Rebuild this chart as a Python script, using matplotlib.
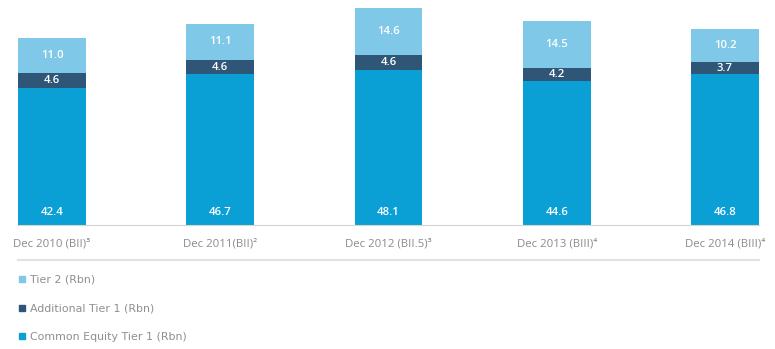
import matplotlib.pyplot as plt
from matplotlib.lines import Line2D

# Capital composition by reporting date (Rbn)
periods = ["Dec 2010 (BII)\u00b3", "Dec 2011(BII)\u00b2", "Dec 2012 (BII.5)\u00b3",
           "Dec 2013 (BIII)\u2074", "Dec 2014 (BIII)\u2074"]
cet1 = [42.4, 46.7, 48.1, 44.6, 46.8]
at1 = [4.6, 4.6, 4.6, 4.2, 3.7]
tier2 = [11.0, 11.1, 14.6, 14.5, 10.2]

C_CET1 = "#0a9fd5"
C_AT1 = "#2f5676"
C_T2 = "#7fc8e8"
GREY = "#8a8a8a"

plt.rcParams["font.family"] = ["Open Sans", "DejaVu Sans"]

W, H = 775, 349
fig = plt.figure(figsize=(W / 100, H / 100), dpi=100)
ax = fig.add_axes([18 / W, 1 - 225 / H, (759 - 18) / W, 225 / H])

x = range(len(periods))
width = 0.404
ax.bar(x, cet1, width, color=C_CET1)
ax.bar(x, at1, width, bottom=cet1, color=C_AT1)
base2 = [a + b for a, b in zip(cet1, at1)]
ax.bar(x, tier2, width, bottom=base2, color=C_T2)

lab = dict(ha="center", va="center", color="white", fontsize=8.2, fontweight="semibold")
for i in x:
    ax.text(i, 4.0, f"{cet1[i]:.1f}", **lab)
    ax.text(i, cet1[i] + at1[i] / 2, f"{at1[i]:.1f}", **lab)
    ax.text(i, base2[i] + tier2[i] / 2, f"{tier2[i]:.1f}", **lab)

ax.set_xlim(-0.2021, 4.2021)
ax.set_ylim(0, 69.8)
ax.set_yticks([])
ax.set_xticks(list(x))
ax.set_xticklabels(periods, fontsize=8.2, color=GREY)
ax.tick_params(axis="x", length=0, pad=10)
for s in ["top", "right", "left"]:
    ax.spines[s].set_visible(False)
ax.spines["bottom"].set_color("#d4d4d4")
ax.spines["bottom"].set_linewidth(0.8)

# separator between chart and legend
fig.add_artist(Line2D([18 / W, 759 / W], [1 - 260 / H, 1 - 260 / H],
                      color="#e2e2e2", linewidth=1.6))

handles = [Line2D([], [], marker="s", linestyle="", markersize=5, color=c)
           for c in (C_T2, C_AT1, C_CET1)]
labels = ["Tier 2 (Rbn)", "Additional Tier 1 (Rbn)", "Common Equity Tier 1 (Rbn)"]
leg = fig.legend(handles, labels, loc="upper left", bbox_to_anchor=(12 / W, 1 - 269 / H),
                 frameon=False, handlelength=0.8, handletextpad=0.3,
                 labelspacing=1.72, borderpad=0,
                 prop={"family": "DejaVu Sans", "size": 7.9})
for t in leg.get_texts():
    t.set_color("#8f8f8f")

fig.savefig("out.png", dpi=100)
